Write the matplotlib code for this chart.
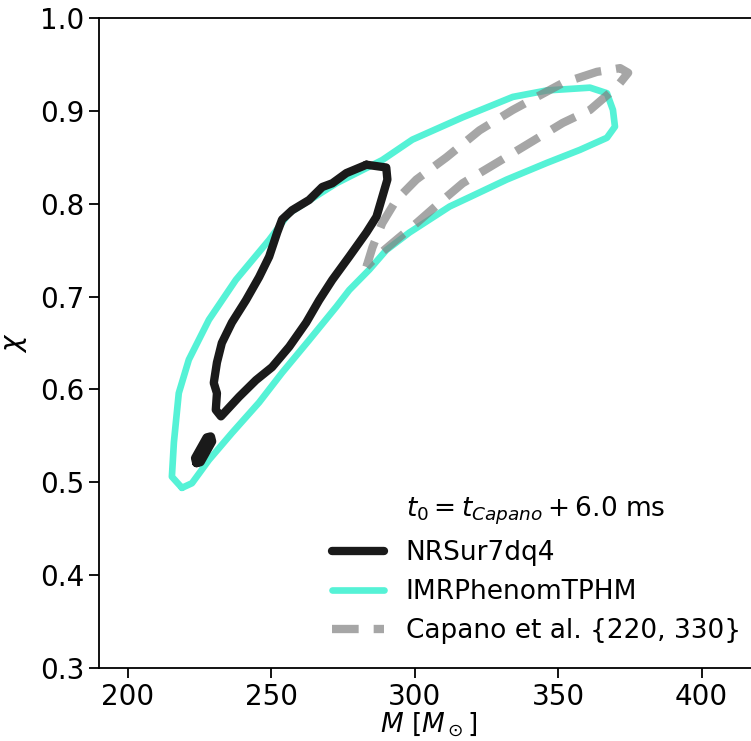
import numpy as np
import matplotlib
matplotlib.use("Agg")
import matplotlib.pyplot as plt

# contour outlines (M in solar masses, chi)
nrsur_M = [283.2, 290.1, 290.5, 288.7, 286.7, 283.2, 277.2, 271.3, 266.7, 262.2,
           256.3, 250.3, 244.7, 238.8, 232.5, 230.7, 231.1, 230.0, 231.1, 232.8,
           236.3, 241.2, 245.8, 249.3, 252.1, 253.8, 257.3, 263.2, 267.8, 271.3, 276.2]
nrsur_chi = [0.842, 0.839, 0.826, 0.807, 0.786, 0.769, 0.743, 0.718, 0.696, 0.672,
             0.646, 0.624, 0.610, 0.592, 0.571, 0.578, 0.596, 0.607, 0.629, 0.650,
             0.672, 0.696, 0.721, 0.743, 0.769, 0.783, 0.793, 0.804, 0.818, 0.822, 0.833]

# small island of the NRSur7dq4 contour
blob_M = [224.0, 225.3, 229.3, 228.9, 227.6, 223.6]
blob_chi = [0.521, 0.522, 0.544, 0.549, 0.548, 0.526]

imr_M = [218.9, 215.4, 216.1, 217.8, 221.3, 228.3, 237.7, 249.3, 256.3, 272.7,
         288.7, 299.2, 316.7, 334.2, 346.1, 361.1, 367.0, 369.1, 369.8, 367.0,
         357.6, 346.1, 332.1, 319.1, 312.2, 305.2, 298.2, 290.1, 284.2, 277.2,
         272.7, 263.2, 253.8, 245.8, 236.3, 228.3, 222.4]
imr_chi = [0.494, 0.506, 0.543, 0.596, 0.632, 0.675, 0.718, 0.761, 0.790, 0.822,
           0.847, 0.869, 0.893, 0.915, 0.922, 0.925, 0.919, 0.901, 0.883, 0.871,
           0.858, 0.844, 0.826, 0.807, 0.797, 0.783, 0.769, 0.750, 0.729, 0.707,
           0.689, 0.653, 0.618, 0.586, 0.553, 0.524, 0.499]

capano_M = [283.2, 285.3, 288.7, 293.6, 300.6, 311.1, 322.6, 334.2, 351.6, 363.5,
            371.6, 374.4, 370.5, 361.1, 351.6, 337.7, 328.6, 316.7, 308.7, 300.6,
            293.6, 286.7]
capano_chi = [0.732, 0.753, 0.779, 0.804, 0.826, 0.850, 0.879, 0.901, 0.930, 0.942,
              0.946, 0.941, 0.926, 0.901, 0.887, 0.861, 0.844, 0.822, 0.801, 0.779,
              0.761, 0.743]

x_ticks = [200, 250, 300, 350, 400]
y_ticks = [0.3, 0.4, 0.5, 0.6, 0.7, 0.8, 0.9, 1.0]


def closed(a):
    return list(a) + [a[0]]


fig = plt.figure(figsize=(7.51, 7.41), dpi=100)
ax = fig.add_axes([99/751, 73/741, 660/751, 650/741])

rnd = dict(solid_joinstyle="round", solid_capstyle="round",
           dash_joinstyle="round")
ax.plot(closed(capano_M), closed(capano_chi), color="gray", alpha=0.7, lw=6,
        dashes=(3.2, 1.8), label="Capano et al. {220, 330}", zorder=3, **rnd)
ax.plot(closed(imr_M), closed(imr_chi), color="#55f2d6", lw=4.8,
        label="IMRPhenomTPHM", zorder=1, **rnd)
ax.plot(closed(nrsur_M), closed(nrsur_chi), color="#1a1a1a", lw=6,
        label="NRSur7dq4", zorder=2, **rnd)
ax.plot(closed(blob_M), closed(blob_chi), color="#1a1a1a", lw=6.5, zorder=2, **rnd)

ax.set_xlim(190, 420)
ax.set_ylim(0.3, 1.0)
ax.set_xticks(x_ticks)
ax.set_yticks(y_ticks)
ax.set_yticklabels([f"{v:.1f}" for v in y_ticks])
ax.tick_params(labelsize=20, length=7, width=1.3)
for s in ax.spines.values():
    s.set_linewidth(1.3)
ax.set_xlabel(r"$M\ [M_\odot]$", fontsize=19, labelpad=0)
ax.set_ylabel(r"$\chi$", fontsize=20, labelpad=8)

h, l = ax.get_legend_handles_labels()
order = [2, 1, 0]
leg = ax.legend([h[i] for i in order], [l[i] for i in order],
                title=r"$t_0 = t_{Capano} + 6.0$ ms", frameon=False,
                fontsize=19, title_fontsize=19, handlelength=2.0,
                loc="lower right", bbox_to_anchor=(1.008, 0.0))

plt.savefig("out.png", dpi=100)
